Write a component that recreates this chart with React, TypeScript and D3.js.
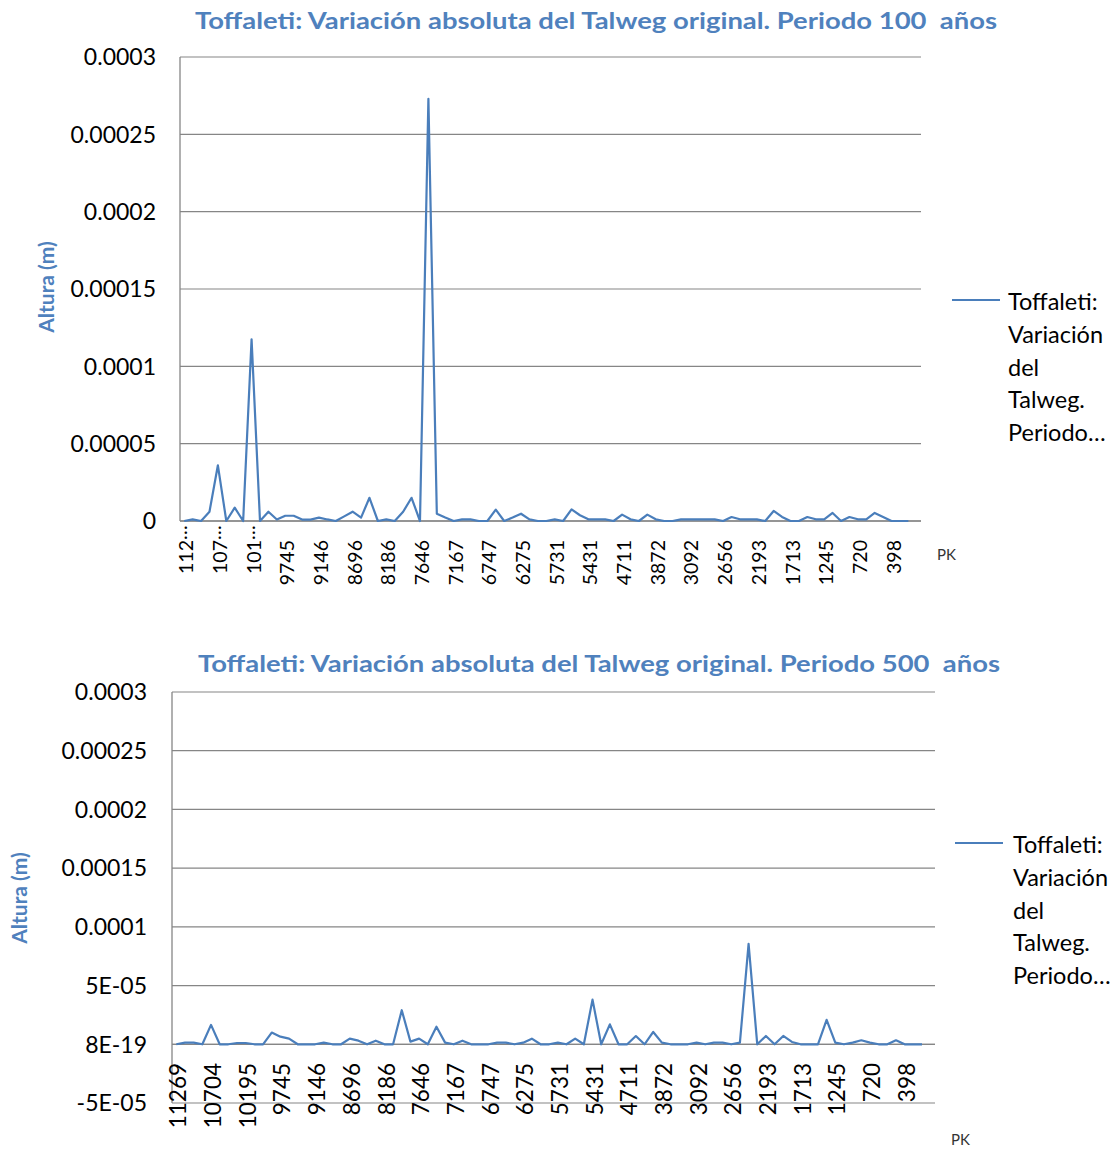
import React from "react";
import * as d3 from "d3";

// ---- data ----
const categoryCount = 88; // PK categories (last one empty)
const tickStep = 4;
const xTickLabels = [
  "11269", "10704", "10195", "9745", "9146", "8696", "8186", "7646", "7167", "6747", "6275",
  "5731", "5431", "4711", "3872", "3092", "2656", "2193", "1713", "1245", "720", "398",
];
const xTickLabelsTopTruncated = [
  "112…", "107…", "101…", "9745", "9146", "8696", "8186", "7646", "7167", "6747", "6275",
  "5731", "5431", "4711", "3872", "3092", "2656", "2193", "1713", "1245", "720", "398",
];

const values100 = [
  0, 1e-6, 0, 6e-6, 36e-6, 0, 8.6e-6, 0, 117.5e-6, 0,
  6e-6, 1e-6, 3.4e-6, 3.4e-6, 0.9e-6, 0.9e-6, 2.2e-6, 1e-6, 0, 3e-6,
  6e-6, 2.2e-6, 15e-6, 0, 1e-6, 0, 6e-6, 15e-6, 0, 273e-6,
  4.7e-6, 2.2e-6, 0, 1e-6, 1e-6, 0, 0, 7.3e-6, 0, 2.2e-6,
  4.7e-6, 1e-6, 0, 0, 1e-6, 0, 7.5e-6, 3.7e-6, 1.1e-6, 1.1e-6,
  1.1e-6, 0, 4.1e-6, 1.1e-6, 0, 4.1e-6, 1.1e-6, 0, 0, 1.1e-6,
  1.1e-6, 1.1e-6, 1.1e-6, 1.1e-6, 0, 2.6e-6, 1.1e-6, 1.1e-6, 1.1e-6, 0,
  6.5e-6, 2.6e-6, 0, 0, 2.6e-6, 1.1e-6, 1.1e-6, 5.2e-6, 0, 2.6e-6,
  1.1e-6, 1.1e-6, 5.2e-6, 2.6e-6, 0, 0, 0,
];

const values500 = [
  0, 1.4e-6, 1.4e-6, 0, 16.5e-6, 0, 0, 1.1e-6, 1.1e-6, 0,
  0, 10e-6, 6.5e-6, 4.8e-6, 0, 0, 0, 1.4e-6, 0, 0,
  4.8e-6, 3.1e-6, 0, 3.1e-6, 0, 0, 29e-6, 2.3e-6, 4.8e-6, 0,
  15e-6, 1.4e-6, 0, 3.1e-6, 0, 0, 0, 1.4e-6, 1.4e-6, 0,
  1.4e-6, 4.8e-6, 0, 0, 1.4e-6, 0, 4.8e-6, 0, 38e-6, 0,
  17e-6, 0, 0, 7e-6, 0, 10.5e-6, 1.4e-6, 0, 0, 0,
  1.4e-6, 0, 1.4e-6, 1.4e-6, 0, 1.4e-6, 85.5e-6, 0, 7.1e-6, 0,
  7.1e-6, 2e-6, 0, 0, 0, 20.8e-6, 1.4e-6, 0, 1.4e-6, 3.4e-6,
  1.4e-6, 0, 0, 3.4e-6, 0, 0, 0,
];

const yTicks100 = [0, 0.00005, 0.0001, 0.00015, 0.0002, 0.00025, 0.0003];
const yTickLabels100 = ["0", "0.00005", "0.0001", "0.00015", "0.0002", "0.00025", "0.0003"];
const yTicks500 = [-0.00005, 0, 0.00005, 0.0001, 0.00015, 0.0002, 0.00025, 0.0003];
const yTickLabels500 = ["-5E-05", "8E-19", "5E-05", "0.0001", "0.00015", "0.0002", "0.00025", "0.0003"];

const title100 = "Toffaleti: Variación absoluta del Talweg original. Periodo 100  años";
const title500 = "Toffaleti: Variación absoluta del Talweg original. Periodo 500  años";
const legendLines = ["Toffaleti:", "Variación", "del", "Talweg.", "Periodo…"];

const BLUE = "#4F81BD";
const LINE = "#4A7EBB";
const GRID = "#868686";
const FONT = "Lato, 'Open Sans', sans-serif";

type ChartProps = {
  title: string;
  titleX: number; titleY: number; titleW: number;
  left: number; right: number; top: number; bottom: number;
  yDomain: [number, number];
  yTicks: number[]; yTickLabels: string[]; yLabelRight: number;
  values: number[];
  xLabels: string[];
  xLabelTop: number; xLabelSize: number;
  axisTitleX: number; axisTitleY: number;
  legendX: number; legendY: number; legendTextX: number;
  pkX: number; pkY: number;
};

function Chart(p: ChartProps) {
  const x = d3.scaleBand<number>()
    .domain(d3.range(categoryCount))
    .range([p.left, p.right])
    .padding(0);
  const cx = (i: number) => (x(i) as number) + x.bandwidth() / 2;
  const y = d3.scaleLinear().domain(p.yDomain).range([p.bottom, p.top]);
  const line = d3.line<number>()
    .x((_, i) => cx(i))
    .y((d) => y(d));
  const zeroY = y(0);

  return (
    <g>
      <text x={p.titleX} y={p.titleY} fill={BLUE} fontFamily={FONT} fontWeight={700} fontSize={23}
        style={{ whiteSpace: "pre" }}
        textLength={p.titleW} lengthAdjust="spacingAndGlyphs">{p.title}</text>
      {/* gridlines */}
      {p.yTicks.map((t) => (
        <line key={"g" + t} x1={p.left} x2={p.right} y1={y(t)} y2={y(t)} stroke={GRID} strokeWidth={1.2} />
      ))}
      {/* y axis */}
      <line x1={p.left} x2={p.left} y1={p.top} y2={p.bottom} stroke={GRID} strokeWidth={1.3} />
      {/* x axis at zero */}
      <line x1={p.left} x2={p.right} y1={zeroY} y2={zeroY} stroke={GRID} strokeWidth={1.3} />
      {/* y tick labels */}
      {p.yTicks.map((t, i) => (
        <text key={"yl" + t} x={p.yLabelRight} y={y(t)} dy="0.36em" textAnchor="end"
          fontFamily={FONT} fontSize={23} fill="#000">{p.yTickLabels[i]}</text>
      ))}
      {/* data line */}
      <path d={line(p.values) || ""} fill="none" stroke={LINE} strokeWidth={2.2} strokeLinejoin="round" />
      {/* x tick labels */}
      {p.xLabels.map((lab, k) => {
        const i = k * tickStep;
        const px = cx(i) + 2 + p.xLabelSize * 0.36;
        const truncated = lab.endsWith("…");
        const main = truncated ? lab.slice(0, -1) : lab;
        return (
          <g key={"xl" + k} transform={`translate(${px},${p.xLabelTop}) rotate(-90)`}>
            <text x={0} y={0} textAnchor="end" fontFamily={FONT} fontSize={p.xLabelSize} fill="#000">{main}</text>
            {truncated && (
              <text x={0} y={-6} textAnchor="start" fontFamily={FONT} fontSize={p.xLabelSize} fill="#000">…</text>
            )}
          </g>
        );
      })}
      {/* axis title */}
      <text transform={`translate(${p.axisTitleX},${p.axisTitleY}) rotate(-90)`} textAnchor="middle"
        fill={BLUE} fontFamily={FONT} fontWeight={700} fontSize={21} dy="0.35em">Altura (m)</text>
      {/* legend */}
      <line x1={p.legendX} x2={p.legendX + 48} y1={p.legendY} y2={p.legendY} stroke={LINE} strokeWidth={2} />
      {legendLines.map((t, i) => (
        <text key={"lg" + i} x={p.legendTextX} y={p.legendY + 2 + i * 32.6} dy="0.36em"
          fontFamily={FONT} fontSize={23.5} fill="#000">{t}</text>
      ))}
      <text x={p.pkX} y={p.pkY} dy="0.35em" fontFamily={FONT} fontSize={15} fill="#333">PK</text>
    </g>
  );
}

export default function App() {
  return (
    <svg width={1116} height={1149} style={{ position: "absolute", left: 0, top: 0, background: "#fff" }}>
      <rect width={1116} height={1149} fill="#fff" />
      <Chart
        title={title100} titleX={195} titleY={29} titleW={802}
        left={180} right={921} top={57} bottom={521}
        yDomain={[0, 0.0003]} yTicks={yTicks100} yTickLabels={yTickLabels100} yLabelRight={156}
        values={values100} xLabels={xTickLabelsTopTruncated} xLabelTop={540} xLabelSize={19.5}
        axisTitleX={47} axisTitleY={287}
        legendX={952} legendY={300} legendTextX={1008}
        pkX={937} pkY={555}
      />
      <Chart
        title={title500} titleX={198} titleY={672} titleW={802}
        left={172} right={935} top={692} bottom={1103}
        yDomain={[-0.00005, 0.0003]} yTicks={yTicks500} yTickLabels={yTickLabels500} yLabelRight={147}
        values={values500} xLabels={xTickLabels} xLabelTop={1063} xLabelSize={22.5}
        axisTitleX={20} axisTitleY={898}
        legendX={955} legendY={843} legendTextX={1013}
        pkX={951} pkY={1140}
      />
    </svg>
  );
}
